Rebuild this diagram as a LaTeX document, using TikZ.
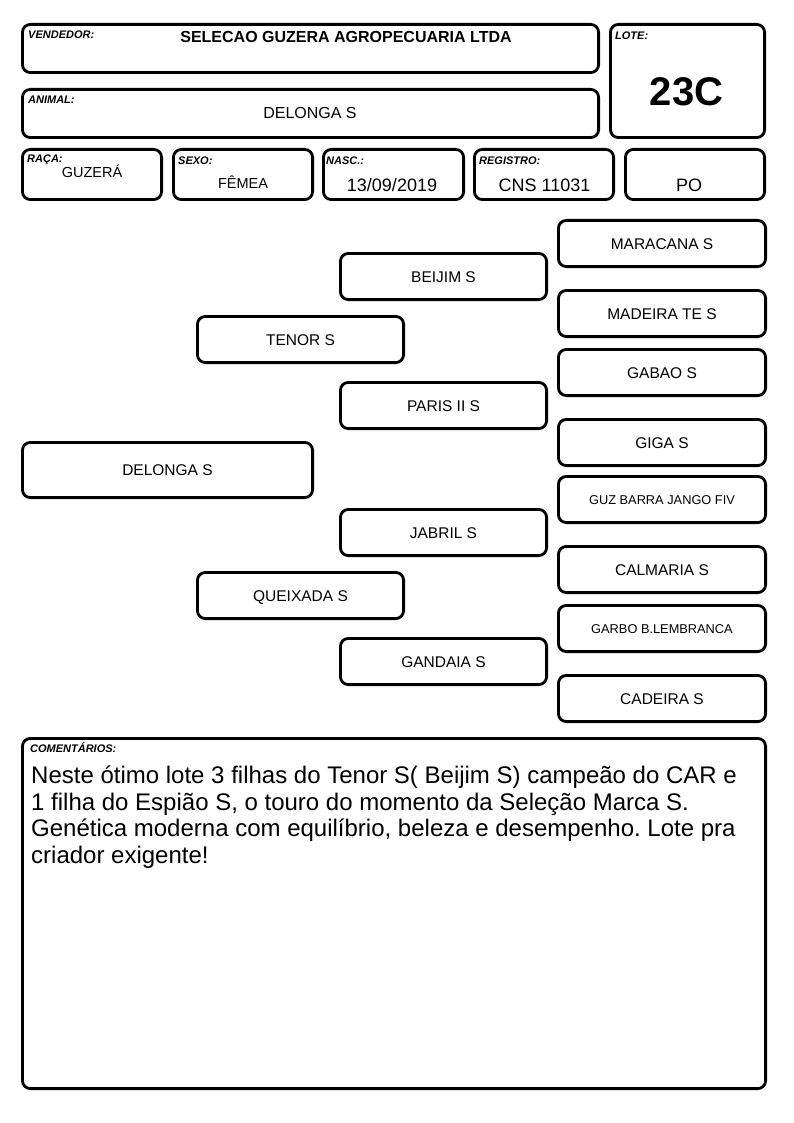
\documentclass[tikz,border=0pt]{standalone}
\usepackage{fontspec}
\setmainfont{Liberation Sans}
\frenchspacing
\tikzset{
 frame/.style={draw=black, line width=2.8pt, rounded corners=8pt, inner sep=0pt, outer sep=0pt},
 lbl/.style={font=\fontsize{11}{12}\selectfont\bfseries\itshape, anchor=base west, inner sep=0pt},
 val/.style={anchor=base, inner sep=0pt},
 ped/.style={frame, font=\fontsize{15.5}{18}\selectfont, text height=11pt, text depth=0pt},
 pedsm/.style={frame, font=\fontsize{12.8}{15}\selectfont, text height=9.2pt, text depth=0pt},
 cmt/.style={anchor=base west, inner sep=0pt, font=\fontsize{24}{27}\selectfont},
}
\newcommand\rbox[7]{%
 \pgfmathsetmacro\rbw{#5-#3-2.8}\pgfmathsetmacro\rbh{#6-#4-2.8}%
 \pgfmathsetmacro\rbx{(#3+#5)/2}\pgfmathsetmacro\rby{(#4+#6)/2}%
 \node[#1, minimum width=\rbw pt, minimum height=\rbh pt] (#2) at (\rbx,\rby) {#7};}
\begin{document}
\begin{tikzpicture}[x=1pt,y=-1pt]
\fill[white] (0,0) rectangle (794,1123);
\useasboundingbox (0,0) rectangle (794,1123);
% header boxes
\rbox{frame}{vend}{21}{23}{600}{74}{}
\rbox{frame}{anim}{21}{88}{600}{139}{}
\rbox{frame}{lote}{609}{23}{766}{139}{}
\rbox{frame}{raca}{21}{148}{163}{201}{}
\rbox{frame}{sexo}{172}{148}{314}{201}{}
\rbox{frame}{nasc}{322}{148}{465}{201}{}
\rbox{frame}{regi}{473}{148}{615}{201}{}
\rbox{frame}{cat}{624}{148}{766}{201}{}
% labels
\node[lbl] (lvend) at (28,39) {VENDEDOR:};
\node[lbl] (llote) at (615,40) {LOTE:};
\node[lbl] (lanim) at (28,104) {ANIMAL:};
\node[lbl] (lraca) at (27,163) {RAÇA:};
\node[lbl] (lsexo) at (178,165) {SEXO:};
\node[lbl] (lnasc) at (326,165) {NASC.:};
\node[lbl] (lregi) at (479,165) {REGISTRO:};
% values
\node[val, font=\fontsize{16}{19}\selectfont\bfseries] (tvend) at (346,43) {SELECAO GUZERA AGROPECUARIA LTDA};
\node[val, font=\fontsize{16}{19}\selectfont] (tanim) at (310,119) {DELONGA S};
\node[val, font=\fontsize{40}{46}\selectfont\bfseries] (tlote) at (686.5,106) {23C};
\node[val, font=\fontsize{14.5}{17}\selectfont] (traca) at (92,178) {GUZERÁ};
\node[val, font=\fontsize{14.5}{17}\selectfont] (tsexo) at (243,189) {FÊMEA};
\node[val, font=\fontsize{18}{21}\selectfont] (tnasc) at (392,192) {13/09/2019};
\node[val, font=\fontsize{18}{21}\selectfont] (tregi) at (544.5,192) {CNS 11031};
\node[val, font=\fontsize{18}{21}\selectfont] (tcat) at (689,192) {PO};
% pedigree
\rbox{ped}{g0}{21}{441}{314}{499}{DELONGA S}
\rbox{ped}{g1a}{196}{315}{405}{364}{TENOR S}
\rbox{ped}{g1b}{196}{571}{405}{620}{QUEIXADA S}
\rbox{ped}{g2a}{339}{252}{548}{301}{BEIJIM S}
\rbox{ped}{g2b}{339}{381}{548}{430}{PARIS II S}
\rbox{ped}{g2c}{339}{508}{548}{557}{JABRIL S}
\rbox{ped}{g2d}{339}{637}{548}{686}{GANDAIA S}
\rbox{ped}{g3a}{557}{219}{767}{268}{MARACANA S}
\rbox{ped}{g3b}{557}{289}{767}{338}{MADEIRA TE S}
\rbox{ped}{g3c}{557}{348}{767}{397}{GABAO S}
\rbox{ped}{g3d}{557}{418}{767}{467}{GIGA S}
\rbox{pedsm}{g3e}{557}{475}{767}{524}{GUZ BARRA JANGO FIV}
\rbox{ped}{g3f}{557}{545}{767}{594}{CALMARIA S}
\rbox{pedsm}{g3g}{557}{604}{767}{653}{GARBO B.LEMBRANCA}
\rbox{ped}{g3h}{557}{674}{767}{723}{CADEIRA S}
% comments
\rbox{frame}{com}{21}{737}{767}{1090}{}
\node[lbl] (lcom) at (30,752) {COMENTÁRIOS:};
\node[cmt] (c1) at (31,783) {Neste ótimo lote 3 filhas do Tenor S( Beijim S) campeão do CAR e};
\node[cmt] (c2) at (31,810) {1 filha do Espião S, o touro do momento da Seleção Marca S.};
\node[cmt] (c3) at (31,836.5) {Genética moderna com equilíbrio, beleza e desempenho. Lote pra};
\node[cmt] (c4) at (31,863) {criador exigente!};
\end{tikzpicture}
\end{document}
